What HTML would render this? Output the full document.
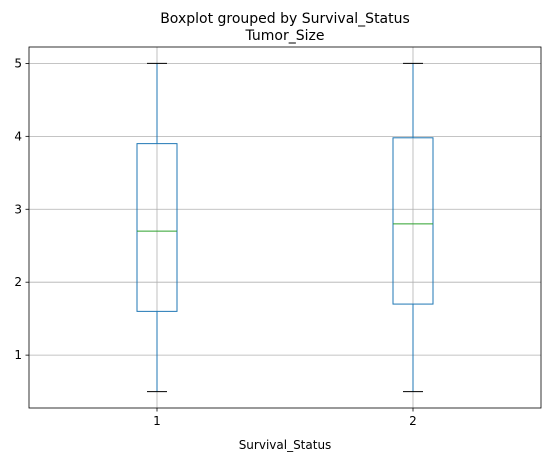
<!DOCTYPE html>
<html><head><meta charset="utf-8"><style>
body{margin:0;background:#fff;font-family:"Liberation Sans","DejaVu Sans",sans-serif;}
svg text{font-family:"DejaVu Sans","Liberation Sans",sans-serif;}
</style></head><body>
<svg id="chart" width="550" height="461" xmlns="http://www.w3.org/2000/svg">
<text x="285" y="23" text-anchor="middle" font-size="14">Boxplot grouped by Survival_Status</text>
<text x="285" y="40" text-anchor="middle" font-size="14">Tumor_Size</text>
<g id="grid"></g><g id="boxes"></g><g id="axes"></g>
<text x="285" y="449" text-anchor="middle" font-size="12">Survival_Status</text>
</svg>
<script>
const categories=["1","2"];
const whiskerLow=[0.5,0.5];
const q1=[1.6,1.7];
const medians=[2.7,2.8];
const q3=[3.9,3.98];
const whiskerHigh=[5,5];
const yTicks=[1,2,3,4,5];
const L=29,R=541,T=47,B=408,ymin=0.275,ymax=5.225;
const ns="http://www.w3.org/2000/svg";
const xs=i=>L+(i+0.5)*(R-L)/categories.length;
const ys=v=>B-(v-ymin)/(ymax-ymin)*(B-T);
function mk(tag,attrs,parent){const e=document.createElementNS(ns,tag);for(const k in attrs)e.setAttribute(k,attrs[k]);document.getElementById(parent).appendChild(e);return e;}
yTicks.forEach(t=>{
 const g=mk('line',{x1:L,x2:R,y1:ys(t),y2:ys(t),stroke:'#b0b0b0','stroke-width':0.8},'grid');
 
 
 const tk=mk('line',{x1:L-3.5,x2:L,y1:ys(t),y2:ys(t),stroke:'#000','stroke-width':0.8},'axes');
 
 
 const tx=mk('text',{x:L-7,y:ys(t)+4,'text-anchor':'end','font-size':12},'axes');
 tx.textContent=t;
 
 
});
categories.forEach((c,i)=>{
 const x=xs(i);
 const g=mk('line',{x1:x,x2:x,y1:T,y2:B,stroke:'#b0b0b0','stroke-width':0.8},'grid');
 
 
 const tk=mk('line',{x1:x,x2:x,y1:B,y2:B+3.5,stroke:'#000','stroke-width':0.8},'axes');
 
 
 const tx=mk('text',{x:x,y:B+17,'text-anchor':'middle','font-size':12},'axes');
 tx.textContent=c;
 
 
 const bw=20,cw=10,col='#1f77b4';
 const w1=mk('line',{x1:x,x2:x,y1:ys(whiskerLow[i]),y2:ys(q1[i]),stroke:col,'stroke-width':1},'boxes');
 
 
 const w2=mk('line',{x1:x,x2:x,y1:ys(q3[i]),y2:ys(whiskerHigh[i]),stroke:col,'stroke-width':1},'boxes');
 
 
 const c1=mk('line',{x1:x-cw,x2:x+cw,y1:ys(whiskerLow[i]),y2:ys(whiskerLow[i]),stroke:'#000','stroke-width':1},'boxes');
 
 
 const c2=mk('line',{x1:x-cw,x2:x+cw,y1:ys(whiskerHigh[i]),y2:ys(whiskerHigh[i]),stroke:'#000','stroke-width':1},'boxes');
 
 
 const b=mk('rect',{x:x-bw,y:ys(q3[i]),width:2*bw,height:ys(q1[i])-ys(q3[i]),fill:'none',stroke:col,'stroke-width':1},'boxes');
 
 
 const m=mk('line',{x1:x-bw,x2:x+bw,y1:ys(medians[i]),y2:ys(medians[i]),stroke:'#2ca02c','stroke-width':1},'boxes');
 
 
});
const fr=mk('rect',{x:L,y:T,width:R-L,height:B-T,fill:'none',stroke:'#000','stroke-width':0.8},'axes');


</script>
</body></html>
